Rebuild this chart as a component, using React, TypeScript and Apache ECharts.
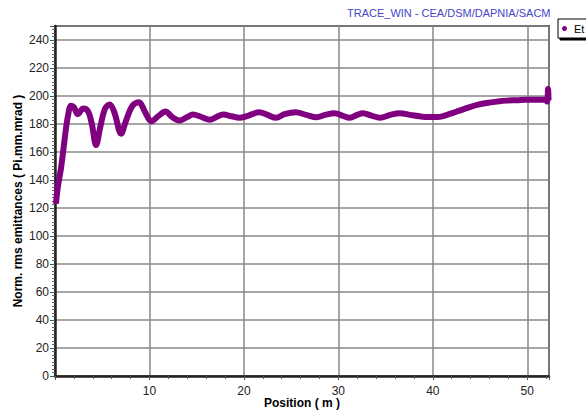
import React, { useEffect, useRef } from "react";
import * as echarts from "echarts";

const positions = [
  0.1, 0.3, 0.65, 1.0, 1.35, 1.7, 2.0, 2.4, 3.0, 3.5, 3.9, 4.35, 4.8, 5.3, 5.8, 6.3, 7.0, 7.5, 8.2, 8.9,
  9.5, 10.2, 11.0, 11.7, 12.4, 13.2, 14.0, 14.6, 15.5, 16.4, 17.1, 17.8, 18.7, 19.5, 20.5, 21.6, 22.5,
  23.4, 24.3, 25.5, 26.6, 27.7, 28.6, 29.6, 30.4, 31.2, 32.0, 32.6, 33.5, 34.4, 35.5, 36.5, 37.6, 38.6,
  39.5, 40.5, 41.0, 41.8, 42.8, 43.9, 44.8, 45.7, 46.8, 47.8, 48.9, 49.9, 51.0, 51.9, 52.1, 52.2, 52.25,
];
const emittance = [
  123, 135, 149, 168, 185, 193, 192, 187, 191, 189, 180, 165, 178, 191, 194, 188, 173, 182, 193, 195.5,
  189, 182, 186, 189, 185, 182.5, 185, 186.7, 185, 183, 185, 186.7, 185.5, 184.4, 186, 188.4, 186.5,
  184.4, 187, 188.4, 186.5, 184.8, 186.5, 187.7, 186, 184.4, 186.5, 187.7, 186, 184.4, 186.5, 187.7,
  186.5, 185.5, 185, 185, 185.5, 187.2, 189.5, 192, 193.8, 195, 196, 196.7, 197, 197.4, 197.4, 197.4,
  196, 205, 197,
];
const seriesName = "Et";
const titleText = "TRACE_WIN - CEA/DSM/DAPNIA/SACM";
const xName = "Position ( m )";
const yName = "Norm. rms emittances ( Pi.mm.mrad )";

export default function App() {
  const ref = useRef<HTMLDivElement>(null);
  useEffect(() => {
    if (!ref.current) return;
    const chart = echarts.init(ref.current, null, { renderer: "svg" });
    const font = "Arial, 'Liberation Sans', sans-serif";
    chart.setOption({
      animation: false,
      backgroundColor: "#ffffff",
      title: {
        text: titleText,
        left: 342,
        top: 2,
        textStyle: { color: "#4646c8", fontSize: 11, fontWeight: "normal", fontFamily: font },
      },
      legend: {
        left: 558,
        top: 19,
        icon: "circle",
        itemWidth: 5,
        itemHeight: 7,
        itemGap: 4,
        padding: [4, 8, 4, 4],
        borderColor: "#000",
        borderWidth: 1,
        backgroundColor: "#fff",
        shadowColor: "#000",
        shadowOffsetX: 2,
        shadowOffsetY: 2,
        shadowBlur: 0,
        textStyle: { color: "#000", fontSize: 11, fontFamily: font, padding: [0, 0, 0, 2] },
        data: [seriesName],
      },
      grid: {
        left: 55,
        right: 37,
        top: 26,
        bottom: 37,
        show: true,
        borderColor: "#444",
        borderWidth: 2,
        containLabel: false,
        outerBoundsMode: "none",
      },
      xAxis: {
        type: "value",
        min: 0,
        max: 52.3,
        interval: 10,
        name: xName,
        nameLocation: "middle",
        nameGap: 21,
        nameMoveOverlap: false,
        nameTextStyle: { fontWeight: "bold", fontSize: 12, color: "#000", fontFamily: font },
        axisLine: { lineStyle: { color: "#222", width: 2.5 } },
        axisTick: { show: true, inside: false, length: 4, lineStyle: { color: "#555" } },
        minorTick: { show: true, splitNumber: 5, length: 3, lineStyle: { color: "#555" } },
        axisLabel: {
          color: "#222",
          fontSize: 12,
          fontFamily: font,
          margin: 9,
          showMinLabel: false,
          showMaxLabel: false,
        },
        splitLine: { show: true, lineStyle: { color: "#888", width: 1.5 } },
      },
      yAxis: {
        type: "value",
        min: 0,
        max: 250,
        interval: 20,
        name: yName,
        nameLocation: "middle",
        nameGap: 31,
        nameMoveOverlap: false,
        nameTextStyle: { fontWeight: "bold", fontSize: 12, color: "#000", fontFamily: font },
        axisLine: { show: true, lineStyle: { color: "#222", width: 2.5 } },
        axisTick: { show: true, inside: false, length: 5, lineStyle: { color: "#555" } },
        minorTick: { show: true, splitNumber: 8, length: 3, lineStyle: { color: "#666" } },
        axisLabel: {
          color: "#222",
          fontSize: 12,
          fontFamily: font,
          margin: 6,
          showMaxLabel: false,
        },
        splitLine: { show: true, lineStyle: { color: "#888", width: 1.5 } },
      },
      series: [
        {
          name: seriesName,
          type: "line",
          data: positions.map((x, i) => [x, emittance[i]]),
          smooth: 0.35,
          showSymbol: false,
          symbol: "circle",
          itemStyle: { color: "#800080" },
          lineStyle: { color: "#800080", width: 6 },
        },
      ],
    });
    return () => chart.dispose();
  }, []);
  return <div ref={ref} style={{ width: 586, height: 413, position: "absolute", left: 0, top: 0 }} />;
}
